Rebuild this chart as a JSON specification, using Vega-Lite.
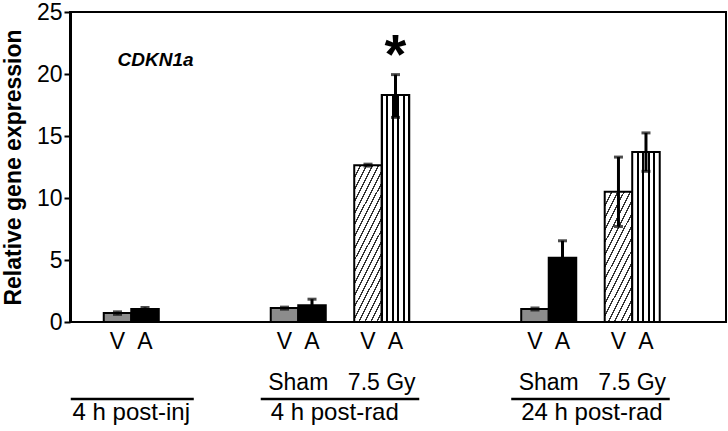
{
  "$schema": "https://vega.github.io/schema/vega-lite/v6.json",
  "width": 656,
  "height": 310,
  "autosize": "none",
  "padding": {"left": 70, "top": 12, "right": 2, "bottom": 109},
  "background": "white",
  "config": {"view": {"stroke": "black", "strokeWidth": 2}, "font": "Liberation Sans"},
  "datasets": {
    "bars": [
      {"cond": "4h-inj", "drug": "V", "radiation": "none", "value": 0.72, "lo": 0.62, "hi": 0.82},
      {"cond": "4h-inj", "drug": "A", "radiation": "none", "value": 1.04, "lo": 0.91, "hi": 1.17},
      {"cond": "4h-sham", "drug": "V", "radiation": "Sham", "value": 1.12, "lo": 1.04, "hi": 1.2},
      {"cond": "4h-sham", "drug": "A", "radiation": "Sham", "value": 1.36, "lo": 0.88, "hi": 1.84},
      {"cond": "4h-7.5", "drug": "V", "radiation": "7.5 Gy", "value": 12.65, "lo": 12.57, "hi": 12.73},
      {"cond": "4h-7.5", "drug": "A", "radiation": "7.5 Gy", "value": 18.3, "lo": 16.5, "hi": 19.95},
      {"cond": "24h-sham", "drug": "V", "radiation": "Sham", "value": 1.05, "lo": 0.97, "hi": 1.13},
      {"cond": "24h-sham", "drug": "A", "radiation": "Sham", "value": 5.19, "lo": 3.83, "hi": 6.55},
      {"cond": "24h-7.5", "drug": "V", "radiation": "7.5 Gy", "value": 10.5, "lo": 7.7, "hi": 13.3},
      {"cond": "24h-7.5", "drug": "A", "radiation": "7.5 Gy", "value": 13.7, "lo": 12.15, "hi": 15.25}
    ],
    "pairs": [
      {"cond": "4h-sham", "label": "Sham"},
      {"cond": "4h-7.5", "label": "7.5 Gy"},
      {"cond": "24h-sham", "label": "Sham"},
      {"cond": "24h-7.5", "label": "7.5 Gy"}
    ],
    "groups": [
      {"first": "4h-inj", "last": "4h-inj", "time": "4 h post-inj"},
      {"first": "4h-sham", "last": "4h-7.5", "time": "4 h post-rad"},
      {"first": "24h-sham", "last": "24h-7.5", "time": "24 h post-rad"}
    ],
    "notes": [
      {"cond": "4h-7.5", "drug": "A", "note": "*"}
    ],
    "gene": [
      {"cond": "4h-inj", "drug": "V", "name": "CDKN1a"}
    ]
  },
  "layer": [
    {
      "data": {"name": "bars"},
      "transform": [{"filter": "datum.drug === 'V' && datum.radiation !== '7.5 Gy'"}],
      "mark": {"type": "bar", "fill": "#8c8c8c", "stroke": "black", "strokeWidth": 2},
      "encoding": {
        "x": {"field": "cond", "type": "nominal", "axis": null,
              "scale": {"domain": ["4h-inj", "gap1", "4h-sham", "4h-7.5", "gap2", "24h-sham", "24h-7.5"], "paddingInner": 0.341, "paddingOuter": 0.599, "align": 0.3375}},
        "xOffset": {"field": "drug", "type": "nominal", "scale": {"domain": ["V", "A"], "paddingInner": 0, "paddingOuter": 0}},
        "y": {"field": "value", "type": "quantitative",
              "scale": {"domain": [0, 25], "nice": false},
              "axis": {"title": "Relative gene expression", "values": [0, 5, 10, 15, 20, 25], "grid": false,
                       "domain": true, "domainColor": "black", "domainWidth": 3,
                       "ticks": true, "tickColor": "black", "tickWidth": 2, "tickSize": 6,
                       "labelFontSize": 23, "labelColor": "black", "labelPadding": 2,
                       "titleFontSize": 23, "titleFontWeight": "bold", "titleColor": "black", "titlePadding": 11}}
      }
    },
    {
      "data": {"name": "bars"},
      "transform": [{"filter": "datum.drug === 'A' && datum.radiation !== '7.5 Gy'"}],
      "mark": {"type": "bar", "fill": "black", "stroke": "black", "strokeWidth": 2},
      "encoding": {
        "x": {"field": "cond", "type": "nominal", "axis": null},
        "xOffset": {"field": "drug", "type": "nominal"},
        "y": {"field": "value", "type": "quantitative"}
      }
    },
    {
      "data": {"name": "bars"},
      "transform": [{"filter": "datum.drug === 'V' && datum.cond === '4h-7.5'"}],
      "mark": {"type": "bar", "stroke": "black", "strokeWidth": 2,
        "fill": {"gradient": "linear", "x1": 0, "y1": 0, "x2": 0.417, "y2": 1.202, "stops": [
          {"offset": 0, "color": "#333333"}, {"offset": 0.014, "color": "#333333"}, {"offset": 0.014, "color": "white"}, {"offset": 0.0556, "color": "white"},
          {"offset": 0.0556, "color": "#333333"}, {"offset": 0.0696, "color": "#333333"}, {"offset": 0.0696, "color": "white"}, {"offset": 0.1111, "color": "white"},
          {"offset": 0.1111, "color": "#333333"}, {"offset": 0.1251, "color": "#333333"}, {"offset": 0.1251, "color": "white"}, {"offset": 0.1667, "color": "white"},
          {"offset": 0.1667, "color": "#333333"}, {"offset": 0.1807, "color": "#333333"}, {"offset": 0.1807, "color": "white"}, {"offset": 0.2222, "color": "white"},
          {"offset": 0.2222, "color": "#333333"}, {"offset": 0.2362, "color": "#333333"}, {"offset": 0.2362, "color": "white"}, {"offset": 0.2778, "color": "white"},
          {"offset": 0.2778, "color": "#333333"}, {"offset": 0.2918, "color": "#333333"}, {"offset": 0.2918, "color": "white"}, {"offset": 0.3333, "color": "white"},
          {"offset": 0.3333, "color": "#333333"}, {"offset": 0.3473, "color": "#333333"}, {"offset": 0.3473, "color": "white"}, {"offset": 0.3889, "color": "white"},
          {"offset": 0.3889, "color": "#333333"}, {"offset": 0.4029, "color": "#333333"}, {"offset": 0.4029, "color": "white"}, {"offset": 0.4444, "color": "white"},
          {"offset": 0.4444, "color": "#333333"}, {"offset": 0.4584, "color": "#333333"}, {"offset": 0.4584, "color": "white"}, {"offset": 0.5, "color": "white"},
          {"offset": 0.5, "color": "#333333"}, {"offset": 0.514, "color": "#333333"}, {"offset": 0.514, "color": "white"}, {"offset": 0.5556, "color": "white"},
          {"offset": 0.5556, "color": "#333333"}, {"offset": 0.5696, "color": "#333333"}, {"offset": 0.5696, "color": "white"}, {"offset": 0.6111, "color": "white"},
          {"offset": 0.6111, "color": "#333333"}, {"offset": 0.6251, "color": "#333333"}, {"offset": 0.6251, "color": "white"}, {"offset": 0.6667, "color": "white"},
          {"offset": 0.6667, "color": "#333333"}, {"offset": 0.6807, "color": "#333333"}, {"offset": 0.6807, "color": "white"}, {"offset": 0.7222, "color": "white"},
          {"offset": 0.7222, "color": "#333333"}, {"offset": 0.7362, "color": "#333333"}, {"offset": 0.7362, "color": "white"}, {"offset": 0.7778, "color": "white"},
          {"offset": 0.7778, "color": "#333333"}, {"offset": 0.7918, "color": "#333333"}, {"offset": 0.7918, "color": "white"}, {"offset": 0.8333, "color": "white"},
          {"offset": 0.8333, "color": "#333333"}, {"offset": 0.8473, "color": "#333333"}, {"offset": 0.8473, "color": "white"}, {"offset": 0.8889, "color": "white"},
          {"offset": 0.8889, "color": "#333333"}, {"offset": 0.9029, "color": "#333333"}, {"offset": 0.9029, "color": "white"}, {"offset": 0.9444, "color": "white"},
          {"offset": 0.9444, "color": "#333333"}, {"offset": 0.9584, "color": "#333333"}, {"offset": 0.9584, "color": "white"}, {"offset": 1, "color": "white"}
        ]}},
      "encoding": {
        "x": {"field": "cond", "type": "nominal", "axis": null},
        "xOffset": {"field": "drug", "type": "nominal"},
        "y": {"field": "value", "type": "quantitative"}
      }
    },
    {
      "data": {"name": "bars"},
      "transform": [{"filter": "datum.drug === 'V' && datum.cond === '24h-7.5'"}],
      "mark": {"type": "bar", "stroke": "black", "strokeWidth": 2,
        "fill": {"gradient": "linear", "x1": 0, "y1": 0, "x2": 0.505, "y2": 1.207, "stops": [
          {"offset": 0, "color": "#333333"}, {"offset": 0.016, "color": "#333333"}, {"offset": 0.016, "color": "white"}, {"offset": 0.0667, "color": "white"},
          {"offset": 0.0667, "color": "#333333"}, {"offset": 0.0827, "color": "#333333"}, {"offset": 0.0827, "color": "white"}, {"offset": 0.1333, "color": "white"},
          {"offset": 0.1333, "color": "#333333"}, {"offset": 0.1493, "color": "#333333"}, {"offset": 0.1493, "color": "white"}, {"offset": 0.2, "color": "white"},
          {"offset": 0.2, "color": "#333333"}, {"offset": 0.216, "color": "#333333"}, {"offset": 0.216, "color": "white"}, {"offset": 0.2667, "color": "white"},
          {"offset": 0.2667, "color": "#333333"}, {"offset": 0.2827, "color": "#333333"}, {"offset": 0.2827, "color": "white"}, {"offset": 0.3333, "color": "white"},
          {"offset": 0.3333, "color": "#333333"}, {"offset": 0.3493, "color": "#333333"}, {"offset": 0.3493, "color": "white"}, {"offset": 0.4, "color": "white"},
          {"offset": 0.4, "color": "#333333"}, {"offset": 0.416, "color": "#333333"}, {"offset": 0.416, "color": "white"}, {"offset": 0.4667, "color": "white"},
          {"offset": 0.4667, "color": "#333333"}, {"offset": 0.4827, "color": "#333333"}, {"offset": 0.4827, "color": "white"}, {"offset": 0.5333, "color": "white"},
          {"offset": 0.5333, "color": "#333333"}, {"offset": 0.5493, "color": "#333333"}, {"offset": 0.5493, "color": "white"}, {"offset": 0.6, "color": "white"},
          {"offset": 0.6, "color": "#333333"}, {"offset": 0.616, "color": "#333333"}, {"offset": 0.616, "color": "white"}, {"offset": 0.6667, "color": "white"},
          {"offset": 0.6667, "color": "#333333"}, {"offset": 0.6827, "color": "#333333"}, {"offset": 0.6827, "color": "white"}, {"offset": 0.7333, "color": "white"},
          {"offset": 0.7333, "color": "#333333"}, {"offset": 0.7493, "color": "#333333"}, {"offset": 0.7493, "color": "white"}, {"offset": 0.8, "color": "white"},
          {"offset": 0.8, "color": "#333333"}, {"offset": 0.816, "color": "#333333"}, {"offset": 0.816, "color": "white"}, {"offset": 0.8667, "color": "white"},
          {"offset": 0.8667, "color": "#333333"}, {"offset": 0.8827, "color": "#333333"}, {"offset": 0.8827, "color": "white"}, {"offset": 0.9333, "color": "white"},
          {"offset": 0.9333, "color": "#333333"}, {"offset": 0.9493, "color": "#333333"}, {"offset": 0.9493, "color": "white"}, {"offset": 1, "color": "white"}
        ]}},
      "encoding": {
        "x": {"field": "cond", "type": "nominal", "axis": null},
        "xOffset": {"field": "drug", "type": "nominal"},
        "y": {"field": "value", "type": "quantitative"}
      }
    },
    {
      "data": {"name": "bars"},
      "transform": [{"filter": "datum.drug === 'A' && datum.radiation === '7.5 Gy'"}],
      "mark": {"type": "bar", "stroke": "black", "strokeWidth": 2,
        "fill": {"gradient": "linear", "x1": 0, "y1": 0, "x2": 1, "y2": 0, "stops": [
          {"offset": 0, "color": "black"}, {"offset": 0.04, "color": "black"},
          {"offset": 0.04, "color": "white"}, {"offset": 0.168, "color": "white"},
          {"offset": 0.168, "color": "black"}, {"offset": 0.238, "color": "black"},
          {"offset": 0.238, "color": "white"}, {"offset": 0.366, "color": "white"},
          {"offset": 0.366, "color": "black"}, {"offset": 0.436, "color": "black"},
          {"offset": 0.436, "color": "white"}, {"offset": 0.564, "color": "white"},
          {"offset": 0.564, "color": "black"}, {"offset": 0.634, "color": "black"},
          {"offset": 0.634, "color": "white"}, {"offset": 0.762, "color": "white"},
          {"offset": 0.762, "color": "black"}, {"offset": 0.832, "color": "black"},
          {"offset": 0.832, "color": "white"}, {"offset": 0.96, "color": "white"},
          {"offset": 0.96, "color": "black"}, {"offset": 1, "color": "black"}
        ]}},
      "encoding": {
        "x": {"field": "cond", "type": "nominal", "axis": null},
        "xOffset": {"field": "drug", "type": "nominal"},
        "y": {"field": "value", "type": "quantitative"}
      }
    },
    {
      "data": {"name": "bars"},
      "mark": {"type": "rule", "color": "black", "strokeWidth": 3},
      "encoding": {
        "x": {"field": "cond", "type": "nominal", "axis": null},
        "xOffset": {"field": "drug", "type": "nominal"},
        "y": {"field": "lo", "type": "quantitative"},
        "y2": {"field": "hi"}
      }
    },
    {
      "data": {"name": "bars"},
      "mark": {"type": "tick", "color": "black", "size": 9, "thickness": 3},
      "encoding": {
        "x": {"field": "cond", "type": "nominal", "axis": null},
        "xOffset": {"field": "drug", "type": "nominal"},
        "y": {"field": "hi", "type": "quantitative"}
      }
    },
    {
      "data": {"name": "bars"},
      "mark": {"type": "tick", "color": "black", "size": 9, "thickness": 3},
      "encoding": {
        "x": {"field": "cond", "type": "nominal", "axis": null},
        "xOffset": {"field": "drug", "type": "nominal"},
        "y": {"field": "lo", "type": "quantitative"}
      }
    },
    {
      "data": {"name": "bars"},
      "mark": {"type": "text", "fontSize": 23, "color": "black", "baseline": "alphabetic"},
      "encoding": {
        "x": {"field": "cond", "type": "nominal", "axis": null},
        "xOffset": {"field": "drug", "type": "nominal"},
        "y": {"datum": -2.18},
        "text": {"field": "drug"}
      }
    },
    {
      "data": {"name": "pairs"},
      "mark": {"type": "text", "fontSize": 23, "color": "black", "baseline": "alphabetic"},
      "encoding": {
        "x": {"field": "cond", "type": "nominal", "axis": null},
        "y": {"datum": -5.48},
        "text": {"field": "label"}
      }
    },
    {
      "data": {"name": "groups"},
      "transform": [{"filter": "datum.first === '4h-inj'"}],
      "mark": {"type": "rule", "color": "black", "strokeWidth": 2.5, "xOffset": -33, "x2Offset": 35},
      "encoding": {
        "x": {"field": "first", "type": "nominal", "bandPosition": 0, "axis": null},
        "x2": {"field": "last", "bandPosition": 1},
        "y": {"datum": -6.21}
      }
    },
    {
      "data": {"name": "groups"},
      "transform": [{"filter": "datum.first !== '4h-inj'"}],
      "mark": {"type": "rule", "color": "black", "strokeWidth": 2.5, "xOffset": -10, "x2Offset": 10},
      "encoding": {
        "x": {"field": "first", "type": "nominal", "bandPosition": 0, "axis": null},
        "x2": {"field": "last", "bandPosition": 1},
        "y": {"datum": -6.21}
      }
    },
    {
      "data": {"name": "groups"},
      "transform": [{"filter": "datum.first === '4h-inj'"}],
      "mark": {"type": "text", "fontSize": 24, "color": "black", "baseline": "alphabetic", "align": "center"},
      "encoding": {
        "x": {"field": "first", "type": "nominal", "axis": null},
        "y": {"datum": -7.9},
        "text": {"field": "time"}
      }
    },
    {
      "data": {"name": "groups"},
      "transform": [{"filter": "datum.first !== '4h-inj'"}],
      "mark": {"type": "text", "fontSize": 24, "color": "black", "baseline": "alphabetic", "align": "left"},
      "encoding": {
        "x": {"field": "first", "type": "nominal", "bandPosition": 0, "axis": null},
        "y": {"datum": -7.9},
        "text": {"field": "time"}
      }
    },
    {
      "data": {"name": "notes"},
      "mark": {"type": "text", "fontSize": 56, "fontWeight": "bold", "color": "black", "baseline": "alphabetic"},
      "encoding": {
        "x": {"field": "cond", "type": "nominal", "axis": null},
        "xOffset": {"field": "drug", "type": "nominal"},
        "y": {"datum": 20.08},
        "text": {"field": "note"}
      }
    },
    {
      "data": {"name": "gene"},
      "mark": {"type": "text", "fontSize": 19, "fontWeight": "bold", "fontStyle": "italic", "color": "black", "baseline": "alphabetic", "align": "left"},
      "encoding": {
        "x": {"field": "cond", "type": "nominal", "axis": null},
        "xOffset": {"field": "drug", "type": "nominal"},
        "y": {"datum": 20.65},
        "text": {"field": "name"}
      }
    }
  ]
}
